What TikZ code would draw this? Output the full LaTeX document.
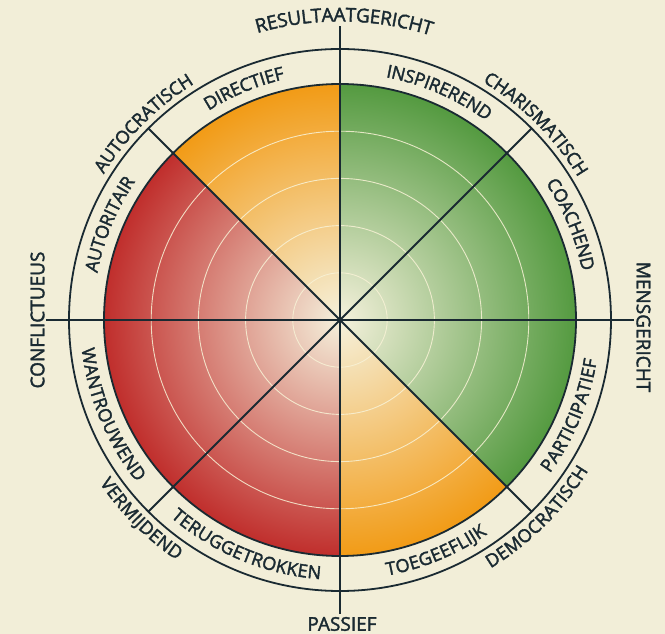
\documentclass[tikz,border=0pt]{standalone}
\usepackage{fontspec}
\setmainfont{Open Sans}[UprightFeatures={FakeBold=2}]
\usetikzlibrary{decorations.text}
\definecolor{bg}{RGB}{242,238,216}
\definecolor{ink}{RGB}{26,42,50}
\definecolor{redO}{RGB}{192,46,44}
\definecolor{orO}{RGB}{242,155,22}
\definecolor{grO}{RGB}{84,154,64}
\definecolor{cen}{RGB}{245,241,220}
\definecolor{ringc}{RGB}{248,242,214}
\newcommand\lblfont{\fontsize{18}{20}\selectfont}
\newcommand\axfont{\fontsize{19}{21}\selectfont}
\pgfdeclareradialshading{redsh}{\pgfpoint{0bp}{0bp}}{color(0bp)=(cen); color(25bp)=(redO); color(50bp)=(redO)}
\pgfdeclareradialshading{orsh}{\pgfpoint{0bp}{0bp}}{color(0bp)=(cen); color(25bp)=(orO); color(50bp)=(orO)}
\pgfdeclareradialshading{grsh}{\pgfpoint{0bp}{0bp}}{color(0bp)=(cen); color(25bp)=(grO); color(50bp)=(grO)}
\newcommand\arccw[4][\lblfont]{%
  \path[decorate,decoration={text along path,text={|#1|#4},text color=ink,text align=center,raise=-6.4pt}]
    ({#2+35}:#3) arc[start angle={#2+35}, end angle={#2-35}, radius=#3];}
\newcommand\arcccw[4][\lblfont]{%
  \path[decorate,decoration={text along path,text={|#1|#4},text color=ink,text align=center,raise=-6.4pt}]
    ({#2-35}:#3) arc[start angle={#2-35}, end angle={#2+35}, radius=#3];}
\tikzset{
  inkline/.style={draw=ink, line width=1.8pt},
  ringline/.style={draw=ringc, line width=0.9pt, opacity=0.85},
  lbl/.style={font=\axfont, text=ink, inner sep=0pt}
}
\begin{document}
\begin{tikzpicture}[x=1pt,y=1pt]
\useasboundingbox (-340,-314) rectangle (325,320);
\fill[bg] (-340,-314) rectangle (325,320);
\coordinate (c) at (0,0);
% shaded sectors
\begin{scope}
  \clip (c) -- (135:240pt) arc[start angle=135, end angle=270, radius=240pt] -- cycle;
  \shade[shading=redsh] (c) circle[radius=236pt];
\end{scope}
\begin{scope}
  \clip (c) -- (90:240pt) arc[start angle=90, end angle=135, radius=240pt] -- cycle;
  \shade[shading=orsh] (c) circle[radius=236pt];
\end{scope}
\begin{scope}
  \clip (c) -- (270:240pt) arc[start angle=270, end angle=315, radius=240pt] -- cycle;
  \shade[shading=orsh] (c) circle[radius=236pt];
\end{scope}
\begin{scope}
  \clip (c) -- (-45:240pt) arc[start angle=-45, end angle=90, radius=240pt] -- cycle;
  \shade[shading=grsh] (c) circle[radius=236pt];
\end{scope}
% level rings
\foreach \r in {47.2,94.4,141.6,188.8} \draw[ringline] (c) circle[radius=\r pt];
% outlines
\draw[inkline] (c) circle[radius=236pt];
\draw[inkline] (c) circle[radius=271pt];
\coordinate (axT) at (0,294);
\coordinate (axB) at (0,-294);
\coordinate (axL) at (-294,0);
\coordinate (axR) at (294,0);
\draw[inkline] (axB) -- (axT);
\draw[inkline] (axL) -- (axR);
\foreach \a in {45,135,225,315} {
  \coordinate (d\a) at (\a:271pt);
  \draw[inkline] (c) -- (d\a);
}
% axis labels
\arccw[\axfont]{89.2}{305pt}{RESULTAATGERICHT}
\node[lbl, rotate=-90] (mens) at (303.5,-7) {MENSGERICHT};
\node[lbl, rotate=90] (confl) at (-302.5,0) {CONFLICTUEUS};
\node[lbl] (pass) at (2,-304) {PASSIEF};
% outer labels
\arccw{135}{284pt}{AUTOCRATISCH}
\arccw{45}{284pt}{CHARISMATISCH}
\arcccw{-45}{284pt}{DEMOCRATISCH}
\arcccw{-135}{284pt}{VERMIJDEND}
% inner ring labels
\arccw{157.5}{253.5pt}{AUTORITAIR}
\arccw{112.5}{253.5pt}{DIRECTIEF}
\arccw{66.5}{253.5pt}{INSPIREREND}
\arccw{22.5}{253.5pt}{COACHEND}
\arcccw{-22.5}{253.5pt}{PARTICIPATIEF}
\arcccw{-67.5}{253.5pt}{TOEGEEFLIJK}
\arcccw{-112.5}{253.5pt}{TERUGGETROKKEN}
\arcccw{-157.5}{253.5pt}{WANTROUWEND}
\end{tikzpicture}
\end{document}
